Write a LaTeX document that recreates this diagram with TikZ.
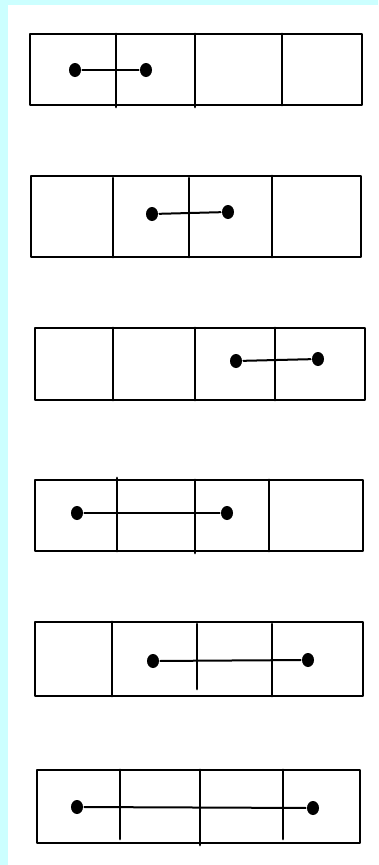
\documentclass[tikz,border=0pt]{standalone}
\usepackage{tikz}
\usetikzlibrary{positioning,shapes.geometric}
\definecolor{sketchcyan}{RGB}{204,255,255}

\begin{document}
\begin{tikzpicture}[x=1pt,y=-1pt,line width=2.8pt,line join=round,line cap=round,
    dot/.style={ellipse,fill=black,inner sep=0pt,minimum width=12pt,minimum height=14pt}]
    % Background
    \fill[sketchcyan] (0,0) rectangle (378,865);
    \fill[white] (8,5) rectangle (378,865);
    \useasboundingbox (0,0) rectangle (378,865);

    % Row 1
    \draw (30,34) rectangle (362,105);
    \draw (116,34) -- (116,107);
    \draw (195,34) -- (195,107);
    \draw (282,34) -- (282,105);
    \node[dot] (p1) at (75,70) {};
    \node[dot] (q1) at (146,70) {};
    \draw[line width=2pt] (p1) -- (q1);

    % Row 2
    \draw (31,176) rectangle (361,257);
    \draw (113,178) -- (113,257);
    \draw (189,178) -- (189,257);
    \draw (272,176) -- (272,257);
    \node[dot] (p2) at (152,214) {};
    \node[dot] (q2) at (228,212) {};
    \draw[line width=2pt] (p2) -- (q2);

    % Row 3
    \draw (35,328) rectangle (365,400);
    \draw (113,328) -- (113,400);
    \draw (195,328) -- (195,400);
    \draw (275,328) -- (275,400);
    \node[dot] (p3) at (236,361) {};
    \node[dot] (q3) at (318,359) {};
    \draw[line width=2pt] (p3) -- (q3);

    % Row 4
    \draw (35,480) rectangle (363,551);
    \draw (117,478) -- (117,551);
    \draw (195,480) -- (195,553);
    \draw (269,480) -- (269,551);
    \node[dot] (p4) at (77,513) {};
    \node[dot] (q4) at (227,513) {};
    \draw[line width=2pt] (p4) -- (q4);

    % Row 5
    \draw (35,622) rectangle (363,696);
    \draw (112,622) -- (112,696);
    \draw (197,624) -- (197,689);
    \draw (272,624) -- (272,696);
    \node[dot] (p5) at (153,661) {};
    \node[dot] (q5) at (308,660) {};
    \draw[line width=2pt] (p5) -- (q5);

    % Row 6
    \draw (37,770) rectangle (360,843);
    \draw (120,770) -- (120,839);
    \draw (200,770) -- (200,845);
    \draw (283,770) -- (283,839);
    \node[dot] (p6) at (77,807) {};
    \node[dot] (q6) at (313,808) {};
    \draw[line width=2pt] (p6) -- (q6);
\end{tikzpicture}
\end{document}
